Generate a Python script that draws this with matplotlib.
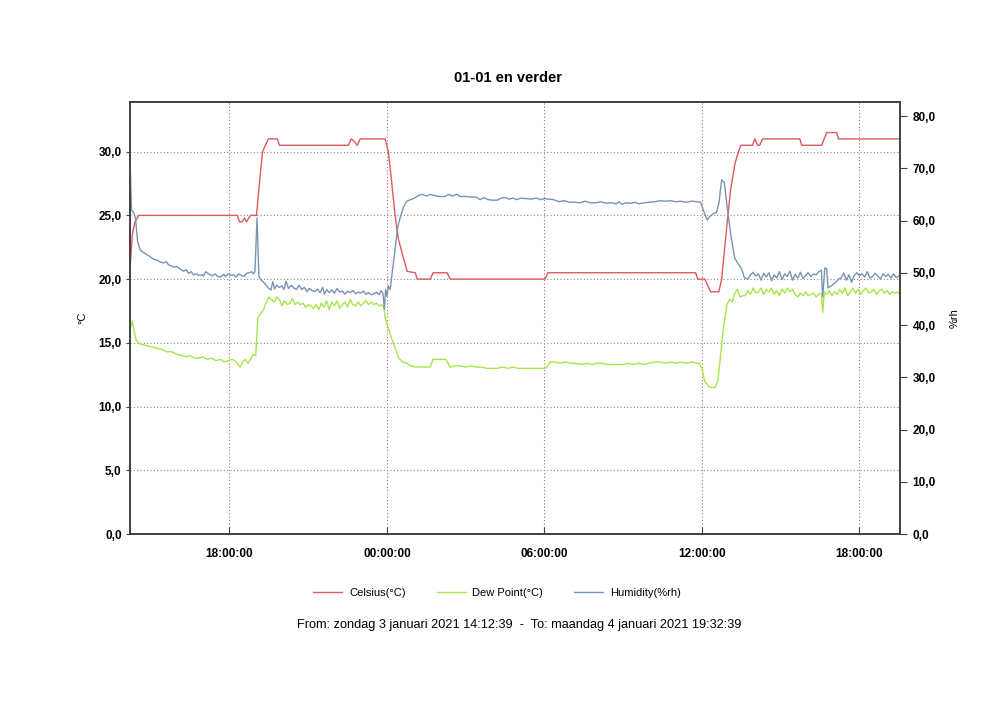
import numpy as np
import matplotlib
matplotlib.use("Agg")
import matplotlib.pyplot as plt
import matplotlib.dates as mdates
import pandas as pd

# hours since 3 jan 2021 00:00
celsius_t = [14.21, 14.30, 14.40, 14.55, 18.30, 18.38, 18.49, 18.57, 18.65, 18.80, 19.03, 19.14,
             19.26, 19.37, 19.48, 19.83, 19.90, 22.53, 22.64, 22.75, 22.87, 22.98, 23.93, 24.05,
             24.16, 24.31, 24.43, 24.62, 24.77, 25.08, 25.15, 25.65, 25.76, 26.29, 26.41, 30.02,
             30.13, 35.76, 35.84, 36.11, 36.22, 36.33, 36.64, 36.75, 36.94, 37.09, 37.25, 37.36,
             37.48, 37.93, 38.01, 38.12, 38.20, 38.31, 39.73, 39.80, 40.56, 40.75, 41.13, 41.20, 43.54]
celsius_v = [20.8, 23.5, 24.5, 25.0, 25.0, 24.5, 24.5, 24.8, 24.5, 25.0, 25.0, 27.5,
             30.0, 30.5, 31.0, 31.0, 30.5, 30.5, 31.0, 30.8, 30.5, 31.0, 31.0, 30.0,
             28.0, 25.0, 23.2, 21.7, 20.6, 20.5, 20.0, 20.0, 20.5, 20.5, 20.0, 20.0,
             20.5, 20.5, 20.0, 20.0, 19.5, 19.0, 19.0, 20.0, 24.0, 27.0, 29.0, 29.8,
             30.5, 30.5, 31.0, 30.5, 30.5, 31.0, 31.0, 30.5, 30.5, 31.5, 31.5, 31.0, 31.0]

dew_t = [14.21, 14.30, 14.38, 14.45, 14.61, 14.80, 15.00, 15.20, 15.40, 15.60, 15.80, 16.00,
         16.20, 16.35, 16.50, 16.65, 16.80, 17.00, 17.15, 17.30, 17.50, 17.65, 17.80, 17.95,
         18.10, 18.20, 18.30, 18.40, 18.50, 18.60, 18.70, 18.80, 18.90, 19.00, 19.08, 19.20,
         19.30, 19.40, 19.50, 19.60, 19.70, 19.80, 19.90, 20.00, 20.10, 20.20, 20.30, 20.40,
         20.50, 20.60, 20.70, 20.80, 20.90, 21.00, 21.10, 21.20, 21.30, 21.40, 21.50, 21.60,
         21.70, 21.80, 21.90, 22.00, 22.10, 22.20, 22.30, 22.40, 22.50, 22.60, 22.70, 22.80,
         22.90, 23.00, 23.10, 23.20, 23.30, 23.40, 23.50, 23.60, 23.70, 23.80, 23.88, 23.93,
         24.00, 24.08, 24.20, 24.31, 24.45, 24.60, 24.75, 24.90, 25.10, 25.30, 25.50, 25.65,
         25.75, 26.00, 26.25, 26.40, 26.60, 26.80, 27.00, 27.20, 27.40, 27.60, 27.80, 28.00,
         28.20, 28.40, 28.60, 28.80, 29.00, 29.20, 29.40, 29.60, 29.80, 30.00, 30.10, 30.20,
         30.40, 30.60, 30.80, 31.00, 31.20, 31.40, 31.60, 31.80, 32.00, 32.20, 32.40, 32.60,
         32.80, 33.00, 33.20, 33.40, 33.60, 33.80, 34.00, 34.20, 34.40, 34.60, 34.80, 35.00,
         35.20, 35.40, 35.60, 35.80, 35.90, 36.00, 36.10, 36.25, 36.35, 36.50, 36.60, 36.70,
         36.80, 36.95, 37.05, 37.15, 37.25, 37.35, 37.45, 37.55, 37.65, 37.75, 37.85, 37.95,
         38.05, 38.15, 38.25, 38.35, 38.45, 38.55, 38.65, 38.75, 38.85, 38.95, 39.05, 39.15,
         39.25, 39.35, 39.45, 39.55, 39.65, 39.75, 39.85, 39.95, 40.05, 40.15, 40.25, 40.35,
         40.45, 40.55, 40.60, 40.66, 40.75, 40.85, 40.95, 41.05, 41.15, 41.25, 41.35, 41.45,
         41.55, 41.65, 41.75, 41.85, 41.95, 42.05, 42.15, 42.25, 42.35, 42.45, 42.55, 42.65,
         42.75, 42.85, 42.95, 43.05, 43.15, 43.25, 43.35, 43.45, 43.54]
dew_v = [16.0, 16.7, 15.8, 15.2, 14.9, 14.8, 14.7, 14.6, 14.5, 14.3, 14.3, 14.1,
         14.0, 13.9, 14.0, 13.8, 13.8, 13.9, 13.7, 13.8, 13.6, 13.7, 13.5, 13.6,
         13.7, 13.6, 13.4, 13.1, 13.5, 13.7, 13.4, 13.7, 14.1, 14.0, 17.0, 17.3,
         17.6, 18.2, 18.6, 18.4, 18.2, 18.6, 18.4, 17.9, 18.3, 18.0, 18.1, 18.5,
         18.0, 18.2, 18.0, 18.1, 17.8, 18.0, 17.9, 17.7, 18.0, 17.6, 18.1, 17.8,
         18.3, 17.6, 18.2, 17.9, 18.3, 17.7, 18.0, 18.2, 17.8, 18.4, 18.0, 17.9,
         18.2, 17.9, 18.1, 18.3, 18.0, 18.2, 18.0, 18.1, 17.9, 18.0, 17.8, 17.0,
         16.5, 16.0, 15.2, 14.6, 13.8, 13.5, 13.4, 13.2, 13.1, 13.1, 13.1, 13.1,
         13.7, 13.7, 13.7, 13.1, 13.2, 13.2, 13.1, 13.2, 13.1, 13.1, 13.0, 13.0,
         13.0, 13.1, 13.0, 13.1, 13.0, 13.0, 13.0, 13.0, 13.0, 13.0, 13.1, 13.5,
         13.5, 13.4, 13.5, 13.4, 13.4, 13.3, 13.4, 13.3, 13.4, 13.4, 13.3, 13.3,
         13.3, 13.3, 13.4, 13.3, 13.4, 13.3, 13.4, 13.5, 13.5, 13.4, 13.5, 13.4,
         13.5, 13.4, 13.5, 13.4, 13.4, 13.0, 12.0, 11.6, 11.5, 11.5, 12.0, 13.8,
         15.9, 18.0, 18.4, 18.2, 18.9, 19.2, 18.6, 18.7, 18.7, 19.1, 18.8, 19.3,
         18.9, 19.0, 19.3, 18.8, 19.2, 19.0, 19.3, 18.8, 19.1, 18.7, 19.2, 18.9,
         19.3, 19.0, 19.2, 18.8, 18.6, 18.9, 18.7, 19.0, 18.7, 18.8, 18.9, 18.6,
         18.8, 18.9, 17.4, 19.0, 18.8, 19.1, 18.7, 19.0, 18.8, 19.2, 18.9, 19.3,
         18.7, 19.0, 19.3, 18.9, 19.2, 18.8, 19.1, 19.3, 18.9, 19.0, 19.2, 18.8,
         19.1, 19.2, 18.9, 19.1, 18.8, 19.0, 18.9, 19.0, 18.8]

hum_t = [14.21, 14.27, 14.35, 14.42, 14.50, 14.61, 14.75, 14.88, 15.00, 15.10, 15.26, 15.38,
         15.49, 15.60, 15.68, 15.80, 15.87, 16.00, 16.10, 16.25, 16.35, 16.44, 16.55, 16.63,
         16.75, 16.82, 16.95, 17.01, 17.10, 17.20, 17.35, 17.45, 17.55, 17.66, 17.78, 17.85,
         17.95, 18.04, 18.15, 18.25, 18.35, 18.45, 18.55, 18.65, 18.75, 18.85, 18.91, 18.97,
         19.05, 19.12, 19.20, 19.30, 19.40, 19.50, 19.58, 19.65, 19.72, 19.80, 19.90, 20.00,
         20.08, 20.15, 20.25, 20.35, 20.45, 20.55, 20.65, 20.75, 20.85, 20.95, 21.05, 21.15,
         21.25, 21.35, 21.45, 21.55, 21.62, 21.70, 21.80, 21.90, 22.00, 22.10, 22.20, 22.30,
         22.40, 22.50, 22.60, 22.70, 22.80, 22.90, 23.00, 23.10, 23.20, 23.30, 23.40, 23.50,
         23.60, 23.70, 23.78, 23.85, 23.90, 23.95, 24.00, 24.05, 24.12, 24.20, 24.31, 24.40,
         24.50, 24.62, 24.75, 24.90, 25.05, 25.20, 25.35, 25.50, 25.65, 25.80, 26.00, 26.20,
         26.35, 26.50, 26.65, 26.80, 27.00, 27.20, 27.40, 27.55, 27.70, 27.85, 28.00, 28.20,
         28.35, 28.50, 28.65, 28.80, 28.95, 29.10, 29.30, 29.50, 29.70, 29.85, 30.00, 30.15,
         30.35, 30.55, 30.75, 30.95, 31.15, 31.35, 31.55, 31.75, 31.95, 32.15, 32.35, 32.55,
         32.75, 32.85, 32.95, 33.10, 33.30, 33.45, 33.60, 33.80, 34.00, 34.20, 34.40, 34.60,
         34.80, 35.00, 35.20, 35.40, 35.60, 35.80, 35.95, 36.05, 36.20, 36.30, 36.45, 36.55,
         36.65, 36.75, 36.85, 36.95, 37.10, 37.25, 37.40, 37.50, 37.62, 37.75, 37.85, 37.95,
         38.05, 38.15, 38.25, 38.35, 38.45, 38.55, 38.65, 38.75, 38.85, 38.95, 39.05, 39.15,
         39.25, 39.35, 39.45, 39.55, 39.65, 39.75, 39.85, 39.95, 40.05, 40.15, 40.25, 40.35,
         40.45, 40.55, 40.60, 40.68, 40.75, 40.80, 40.95, 41.10, 41.20, 41.30, 41.40, 41.50,
         41.60, 41.70, 41.80, 41.90, 42.00, 42.10, 42.20, 42.30, 42.40, 42.50, 42.60, 42.70,
         42.80, 42.90, 43.00, 43.10, 43.20, 43.30, 43.40, 43.54]
hum_v = [72.0, 62.0, 61.5, 60.5, 56.0, 54.3, 53.8, 53.4, 53.0, 52.6, 52.4, 52.0,
         51.9, 52.1, 51.5, 51.3, 51.1, 51.2, 50.8, 50.3, 50.6, 49.9, 50.2, 49.6,
         49.8, 49.5, 49.6, 49.4, 50.2, 49.8, 49.4, 49.8, 49.3, 49.2, 49.7, 49.3,
         49.8, 49.5, 49.6, 49.2, 49.8, 49.5, 49.3, 49.9, 50.0, 50.2, 49.8, 50.2,
         60.5, 49.4, 48.6, 48.2, 47.6, 47.0, 46.7, 48.3, 46.9, 47.6, 47.2, 47.5,
         46.8, 48.4, 47.0, 47.6, 47.1, 46.8, 47.6, 46.8, 47.2, 46.4, 47.0, 46.6,
         46.4, 46.9, 46.2, 47.2, 45.9, 46.8, 46.2, 46.7, 46.1, 47.0, 46.3, 46.5,
         45.9, 46.5, 46.2, 46.6, 46.0, 46.3, 46.1, 46.5, 45.9, 46.2, 45.8, 46.0,
         46.3, 45.8, 46.6, 46.0, 43.0, 46.8, 45.5, 47.5, 46.8, 50.0, 54.5, 58.5,
         60.5, 62.5, 63.7, 64.0, 64.3, 64.8, 65.0, 64.7, 65.0, 64.8, 64.6, 64.6,
         65.0, 64.7, 65.0, 64.6, 64.6, 64.5, 64.5, 64.0, 64.4, 64.0, 63.9, 63.9,
         64.3, 64.4, 64.1, 64.3, 64.0, 64.3, 64.2, 64.1, 64.3, 64.0, 64.2, 64.1,
         64.0, 63.6, 63.8, 63.5, 63.5, 63.4, 63.7, 63.4, 63.4, 63.6, 63.3, 63.4,
         63.2, 63.6, 63.1, 63.4, 63.3, 63.5, 63.2, 63.4, 63.5, 63.6, 63.8, 63.7,
         63.8, 63.6, 63.7, 63.5, 63.7, 63.6, 63.5, 62.0, 60.1, 60.8, 61.4, 61.5,
         63.5, 67.8, 67.3, 63.0, 57.2, 52.8, 51.5, 50.9, 49.0, 48.8, 49.6, 50.1,
         49.4, 49.8, 48.6, 49.9, 49.2, 50.0, 48.5, 49.6, 49.0, 50.2, 48.7, 49.8,
         49.3, 50.3, 48.6, 49.7, 49.0, 50.1, 48.9, 49.5, 50.0, 49.3, 49.8, 49.6,
         50.2, 50.5, 45.4, 50.9, 50.8, 47.1, 47.6, 48.2, 48.8, 49.0, 50.0, 48.6,
         49.6, 48.2, 49.5, 50.0, 49.4, 49.8, 49.2, 50.2, 49.0, 49.3, 49.9, 49.4,
         48.8, 49.8, 49.3, 49.7, 49.0, 49.8, 49.1, 49.5]

base = pd.Timestamp("2021-01-03")
def to_time(hours):
    return base + pd.to_timedelta(np.array(hours), unit="h")

fig = plt.figure(figsize=(10, 7.06), dpi=100)
ax = fig.add_axes([0.13, 0.2436, 0.77, 0.612])
ax2 = ax.twinx()

red = "#e05860"
green = "#a6e64a"
blue = "#7894b2"

l1, = ax.plot(to_time(celsius_t), celsius_v, color=red, lw=1.0, label="Celsius(°C)")
l2, = ax.plot(to_time(dew_t), dew_v, color=green, lw=1.0, label="Dew Point(°C)")
l3, = ax2.plot(to_time(hum_t), hum_v, color=blue, lw=1.0, label="Humidity(%rh)")

ax.set_xlim(pd.Timestamp("2021-01-03 14:12:39"), pd.Timestamp("2021-01-04 19:32:39"))
ax.set_ylim(0, 33.9)
ax2.set_ylim(0, 82.7)

ax.xaxis.set_major_locator(mdates.HourLocator(byhour=[0, 6, 12, 18]))
ax.xaxis.set_major_formatter(mdates.DateFormatter("%H:%M:%S"))
ax.set_yticks(np.arange(0, 31, 5))
ax.set_yticklabels([f"{v:.1f}".replace(".", ",") for v in np.arange(0, 31, 5)])
ax2.set_yticks(np.arange(0, 81, 10))
ax2.set_yticklabels([f"{v:.1f}".replace(".", ",") for v in np.arange(0, 81, 10)])

tick_font = dict(family="Liberation Sans", weight="bold", size=8.5)
for lab in ax.get_xticklabels() + ax.get_yticklabels() + ax2.get_yticklabels():
    lab.set_fontproperties(matplotlib.font_manager.FontProperties(**tick_font))

ax.tick_params(axis="x", direction="in", length=5, color="#404040", pad=10)
ax.tick_params(axis="y", direction="out", length=3, color="#404040", pad=3)
ax2.tick_params(axis="y", direction="out", length=5, color="#404040", pad=4)

ax.yaxis.grid(True, linestyle=(0, (1, 2)), color="#8a8a8a", lw=0.8)
ax.xaxis.grid(True, linestyle=(0, (1, 2)), color="#b06a6a", lw=0.8)
ax.set_axisbelow(True)

for a in (ax, ax2):
    for s in a.spines.values():
        s.set_color("#404040")
        s.set_linewidth(1.2)

ax.set_ylabel("°C", fontsize=8, family="Liberation Sans", labelpad=8)
ax2.set_ylabel("%rh", fontsize=8, family="Liberation Sans", rotation=90, labelpad=10)

fig.text(0.508, 0.8895, "01-01 en verder", ha="center", va="center",
         fontsize=10.5, weight="bold", family="Liberation Sans")

fig.legend(handles=[l1, l2, l3], loc="center", bbox_to_anchor=(0.497, 0.16), ncol=3,
           frameon=False, handlelength=2.6, handletextpad=0.6, columnspacing=2.8,
           prop=dict(family="Liberation Sans", size=8))

fig.text(0.519, 0.1147, "From: zondag 3 januari 2021 14:12:39  -  To: maandag 4 januari 2021 19:32:39",
         ha="center", va="center", fontsize=9.2, family="Liberation Sans")

fig.savefig("out.png", dpi=100)
